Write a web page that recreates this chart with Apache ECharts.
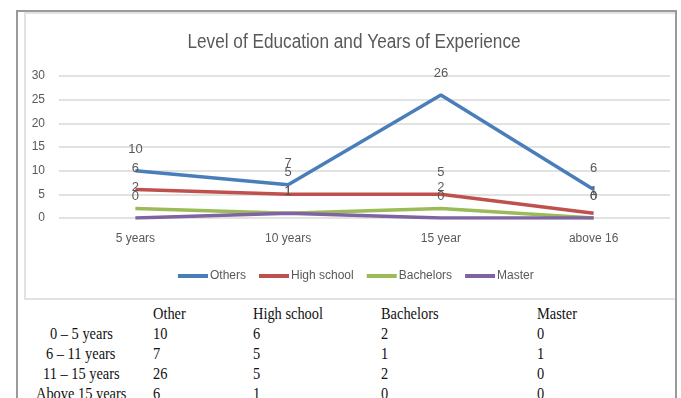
<!DOCTYPE html>
<html>
<head>
<meta charset="utf-8">
<script src="https://cdn.jsdelivr.net/npm/echarts@6/dist/echarts.min.js"></script>
<style>
  body { margin: 0; background: #fff; }
  #wrap { position: relative; width: 681px; height: 398px; overflow: hidden; }
  #container { position: absolute; left: 0; top: 0; width: 681px; height: 300px; }
  .ln { position: absolute; background: #9a9a9a; }
  .inner { position: absolute; left: 24px; top: 12px; width: 652px; height: 288px; border: 2px solid #e2e2e2; border-right: none; box-sizing: border-box; }
  #tbl { position: absolute; left: 0; top: 0; font-family: "Liberation Serif", serif; font-size: 16px; color: #111; }
  #tbl div { position: absolute; white-space: nowrap; line-height: 20px; transform: scaleX(0.9); transform-origin: left center; }
</style>
</head>
<body>
<div id="wrap">
  <div class="inner"></div>
  <div id="container"></div>
  <div class="ln" style="left:16px;top:10px;width:661px;height:2px;"></div>
  <div class="ln" style="left:16px;top:10px;width:2px;height:388px;"></div>
  <div class="ln" style="left:675px;top:10px;width:2px;height:388px;"></div>
  <div id="tbl"></div>
</div>
<script>
var categories = ['5 years', '10 years', '15 year', 'above 16'];
var others = [10, 7, 26, 6];
var highSchool = [6, 5, 5, 1];
var bachelors = [2, 1, 2, 0];
var master = [0, 1, 0, 0];
var yTicks = [0, 5, 10, 15, 20, 25, 30];

// table under the chart
var tableHead = ['Other', 'High school', 'Bachelors', 'Master'];
var tableRows = ['0 \u2013 5 years', '6 \u2013 11 years', '11 \u2013 15 years', 'Above 15 years'];

var dom = document.getElementById('container');
var myChart = echarts.init(dom, null, { renderer: 'canvas' });

var labelFont = '"Liberation Sans", sans-serif';

function makeSeries(name, data, color) {
  return {
    name: name,
    type: 'line',
    data: data,
    symbol: 'circle',
    symbolSize: 0,
    showSymbol: true,
    lineStyle: { width: 3.5, color: color },
    itemStyle: { color: color },
    label: {
      show: true,
      position: 'top',
      distance: 15,
      color: '#595959',
      fontSize: 13,
      fontFamily: labelFont
    },
    labelLayout: { hideOverlap: false },
    emphasis: { disabled: true }
  };
}

var option = {
  animation: false,
  graphic: [{
    type: 'text',
    x: 354,
    y: 42,
    scaleX: 0.86,
    style: {
      text: 'Level of Education and Years of Experience',
      font: '20px "Liberation Sans", sans-serif',
      fill: '#595959',
      align: 'center',
      verticalAlign: 'middle'
    }
  }],
  legend: {
    data: ['Others', 'High school', 'Bachelors', 'Master'],
    icon: 'rect',
    top: 270,
    left: 178,
    padding: 0,
    itemWidth: 30,
    itemHeight: 4,
    itemGap: 13,
    textStyle: { fontFamily: labelFont, fontSize: 12, color: '#595959', padding: [0, 0, 0, -3] }
  },
  grid: { left: 59, right: 11, top: 76, bottom: 82 },
  xAxis: {
    type: 'category',
    data: categories,
    axisLine: { show: false },
    axisTick: { show: false },
    axisLabel: { color: '#595959', fontSize: 12, fontFamily: labelFont, margin: 15 }
  },
  yAxis: {
    type: 'value',
    min: yTicks[0],
    max: yTicks[yTicks.length - 1],
    interval: 5,
    axisLabel: { color: '#595959', fontSize: 12, fontFamily: labelFont, margin: 14 },
    splitLine: { lineStyle: { color: '#d9d9d9', width: 1.5 } }
  },
  series: [
    makeSeries('Others', others, '#4a7ebb'),
    makeSeries('High school', highSchool, '#c0504d'),
    makeSeries('Bachelors', bachelors, '#9bbb59'),
    makeSeries('Master', master, '#8064a2')
  ]
};
myChart.setOption(option);

// build the table text
var tbl = document.getElementById('tbl');
var colX = [153, 253, 381, 537];
var rowY = [304, 324, 344, 364, 384];
function addCell(text, x, y, center) {
  var d = document.createElement('div');
  d.textContent = text;
  d.style.top = y + 'px';
  d.style.left = x + 'px';
  tbl.appendChild(d);
  if (center) {
    var w = d.getBoundingClientRect().width;
    d.style.left = (x - w / 2) + 'px';
  }
}
tableHead.forEach(function (h, i) { addCell(h, colX[i], rowY[0]); });
var cols = [others, highSchool, bachelors, master];
tableRows.forEach(function (r, j) {
  addCell(r, 81, rowY[j + 1], true);
  cols.forEach(function (c, i) { addCell(String(c[j]), colX[i], rowY[j + 1]); });
});

window.addEventListener('resize', myChart.resize);
</script>
</body>
</html>
